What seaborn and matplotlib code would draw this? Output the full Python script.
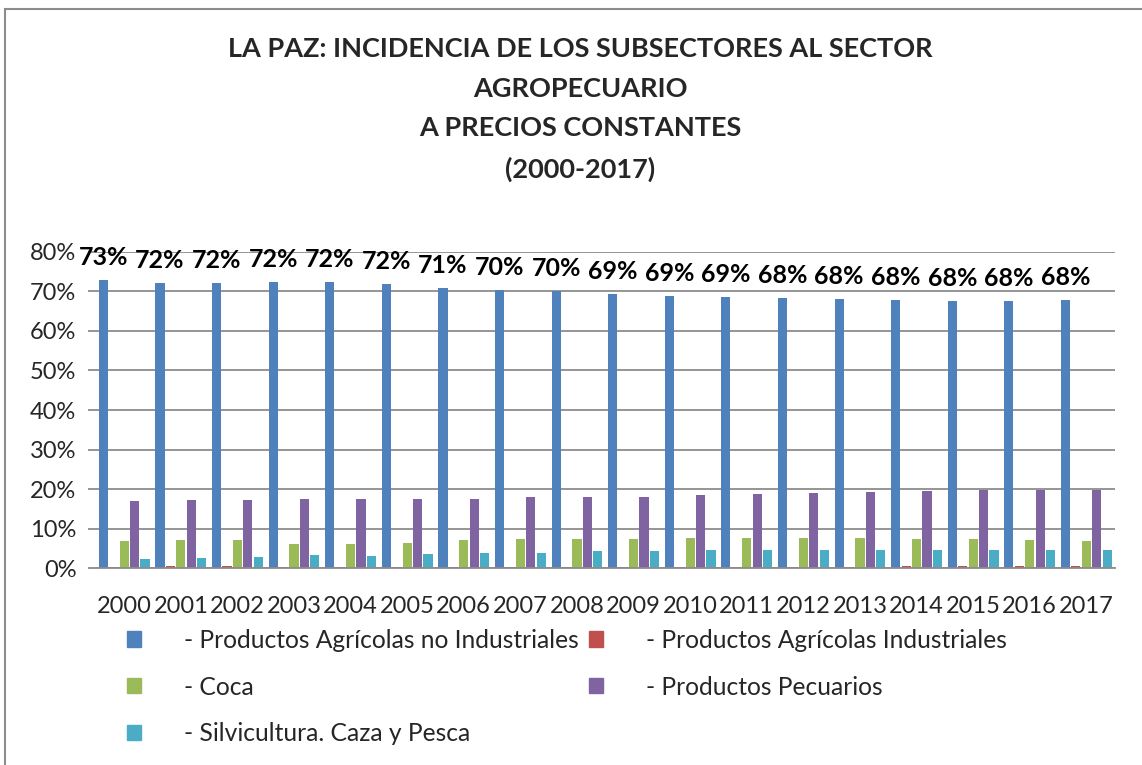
import pandas as pd
import matplotlib.pyplot as plt
import matplotlib.patches as mpatches
from matplotlib.ticker import PercentFormatter
import seaborn as sns

# --- DATA (shares of the agricultural sector) ---
years = [str(y) for y in range(2000, 2018)]
series_names = [
    "- Productos Agrícolas no Industriales",
    "- Productos Agrícolas Industriales",
    "- Coca",
    "- Productos Pecuarios",
    "- Silvicultura. Caza y Pesca",
]
agricolas_no_ind = [73.0, 72.2, 72.2, 72.4, 72.4, 71.9, 70.9, 70.3, 70.0, 69.4,
                    68.8, 68.7, 68.3, 68.0, 67.8, 67.6, 67.6, 67.8]
agricolas_ind = [0.3, 0.5, 0.5, 0.3, 0.3, 0.3, 0.3, 0.3, 0.3, 0.3,
                 0.3, 0.3, 0.3, 0.3, 0.5, 0.5, 0.5, 0.5]
coca = [6.8, 7.1, 7.0, 6.2, 6.2, 6.3, 7.1, 7.3, 7.3, 7.4,
        7.6, 7.6, 7.6, 7.6, 7.4, 7.3, 7.1, 6.8]
pecuarios = [16.9, 17.3, 17.3, 17.5, 17.4, 17.4, 17.4, 17.9, 17.9, 18.0,
             18.5, 18.7, 18.9, 19.2, 19.4, 19.7, 19.7, 19.7]
silvicultura = [2.4, 2.5, 2.7, 3.2, 3.0, 3.5, 3.8, 3.9, 4.2, 4.3,
                4.5, 4.6, 4.5, 4.5, 4.6, 4.6, 4.6, 4.6]
colors = ["#4F81BD", "#C0504D", "#9BBB59", "#8064A2", "#4BACC6"]

title = ("LA PAZ: INCIDENCIA DE LOS SUBSECTORES AL SECTOR\nAGROPECUARIO\n"
         "A PRECIOS CONSTANTES\n(2000-2017)")

# long-form table for seaborn
values = [agricolas_no_ind, agricolas_ind, coca, pecuarios, silvicultura]
rows = []
for name, vals in zip(series_names, values):
    for yr, v in zip(years, vals):
        rows.append({"year": yr, "serie": name, "value": v / 100})
df = pd.DataFrame(rows)

sns.set_theme(style="white")
plt.rcParams["font.family"] = ["Lato", "DejaVu Sans"]

fig = plt.figure(figsize=(11.42, 7.65), dpi=100)
ax = fig.add_axes([0.084, 0.2575, 0.892, 0.4131])

sns.barplot(data=df, x="year", y="value", hue="serie", order=years,
            hue_order=series_names, palette=colors, width=0.92, gap=0.12,
            linewidth=0, saturation=1, legend=False, ax=ax)

# data labels on the first series only
blue = ax.containers[0]
ax.bar_label(blue, labels=[f"{v:.0f}%" for v in agricolas_no_ind], padding=8,
             fontsize=18, fontweight="bold", color="black", clip_on=False)

ax.set_ylim(0, 0.8)
ax.set_yticks([i / 10 for i in range(9)])
ax.yaxis.set_major_formatter(PercentFormatter(1.0, decimals=0))
ax.set_xlim(-0.5, len(years) - 0.5)
ax.set_xlabel("")
ax.set_ylabel("")
ax.grid(axis="y", color="#8C8C8C", linewidth=1.3)
ax.set_axisbelow(True)
for side in ["top", "right", "left"]:
    ax.spines[side].set_visible(False)
ax.spines["bottom"].set_color("#8C8C8C")
ax.spines["bottom"].set_linewidth(1.3)
ax.tick_params(axis="y", labelsize=17, left=True, length=6, color="#8C8C8C",
               width=1.3, pad=8)
ax.tick_params(axis="x", labelsize=17, bottom=False, pad=14)

fig.text(0.508, 0.951, title, ha="center", va="top", fontsize=19.5,
         fontweight="bold", linespacing=1.77)

# legend is filled row by row in the reference: reorder for column-major fill
handles = [mpatches.Patch(color=c, label=n) for c, n in zip(colors, series_names)]
order = [0, 2, 4, 1, 3]
fig.legend(handles=[handles[i] for i in order], ncol=2, loc="upper left",
           bbox_to_anchor=(0.1025, 0.191), frameon=False, fontsize=17.7,
           handlelength=0.57, handleheight=0.57, handletextpad=1.75,
           columnspacing=0.4, labelspacing=0.97, borderaxespad=0)

# outer frame of the chart
fig.patches.append(mpatches.Rectangle((5 / 1142, -0.05), 1.2, 1.05 - 9 / 765,
                                      transform=fig.transFigure, fill=False,
                                      edgecolor="#8C8C8C", linewidth=1.5))

fig.savefig("out.png", dpi=100)
